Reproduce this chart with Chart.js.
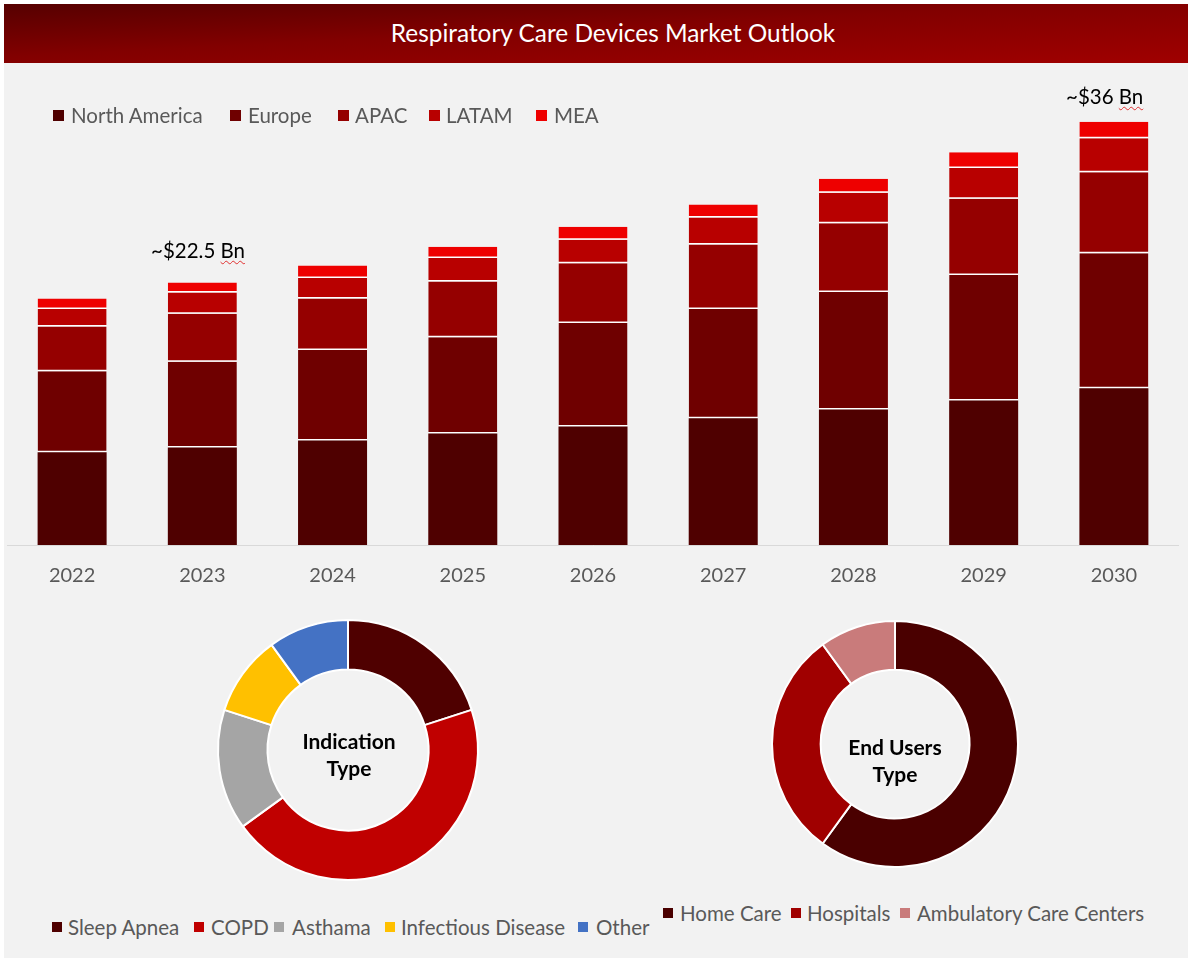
<!DOCTYPE html>
<html>
<head>
<meta charset="utf-8">
<title>Respiratory Care Devices Market Outlook</title>
<script src="https://cdn.jsdelivr.net/npm/chart.js@4"></script>
<style>
  html, body { margin: 0; padding: 0; background: #fff; }
  #page { position: relative; width: 1188px; height: 961px; overflow: hidden; font-family: Lato, sans-serif; }
  #panel { position: absolute; left: 4px; top: 4px; width: 1184px; height: 954px; background: #f2f2f2; }
  #header {
    position: absolute; left: 4px; top: 4px; width: 1184px; height: 59px;
    background: linear-gradient(to bottom right, #560000 0%, #820000 45%, #a00000 100%);
    color: #fff; font-size: 24.4px; line-height: 58px; text-align: center; box-sizing: border-box; padding-left: 34px;
  }
  canvas { position: absolute; }
  .leg { position: absolute; white-space: nowrap; color: #595959; font-size: 20.5px; line-height: 24px; }
  .sq { position: absolute; }
  .note { position: absolute; white-space: nowrap; color: #000; font-size: 20.5px; line-height: 24px; }
  .note u { text-decoration: underline wavy #e03030 1px; text-underline-offset: 2px; }
  .center { position: absolute; width: 160px; text-align: center; color: #000; font-weight: bold; font-size: 21px; line-height: 27px; }
</style>
</head>
<body>
<div id="page">
  <div id="panel"></div>
  <div id="header">Respiratory Care Devices Market Outlook</div>
  <canvas id="chartMercado" width="1172" height="500" style="left:7px;top:100px"></canvas>
  <canvas id="chartIndicacao" width="270" height="270" style="left:213px;top:615px"></canvas>
  <canvas id="chartUsuarios" width="260" height="260" style="left:765px;top:614px"></canvas>
  <div class="center" style="left:269px;top:727px">Indication<br>Type</div>
  <div class="center" style="left:815px;top:733px">End Users<br>Type</div>
  <div class="note" style="left:151px;top:238px">~$22.5 <u>Bn</u></div>
  <div class="note" style="left:1066px;top:84px">~$36 <u>Bn</u></div>
</div>
<script>
// --- Dados (US$ Bn) ---
const anos = ['2022','2023','2024','2025','2026','2027','2028','2029','2030'];
const northAmerica = [7.9, 8.3, 8.9, 9.5, 10.1, 10.8, 11.55, 12.3, 13.35];
const europe = [6.9, 7.3, 7.7, 8.2, 8.8, 9.3, 10.0, 10.7, 11.5];
const apac = [3.8, 4.1, 4.4, 4.75, 5.1, 5.5, 5.85, 6.5, 6.9];
const latam = [1.5, 1.8, 1.75, 2.0, 2.0, 2.3, 2.6, 2.6, 2.9];
const mea = [0.9, 0.85, 1.05, 0.95, 1.1, 1.1, 1.2, 1.35, 1.4];

const regioes = ['North America','Europe','APAC','LATAM','MEA'];
const coresRegioes = ['#4f0000','#6f0000','#950000','#b80000','#ee0000'];

const indicacoes = ['Sleep Apnea','COPD','Asthama','Infectious Disease','Other'];
const valoresIndicacao = [20, 45, 15, 10, 10];
const coresIndicacao = ['#4f0000','#c00000','#a5a5a5','#ffc000','#4472c4'];

const usuarios = ['Home Care','Hospitals','Ambulatory Care Centers'];
const valoresUsuarios = [60, 30, 10];
const coresUsuarios = ['#4a0000','#a00000','#c97b7b'];

// --- Legendas (HTML) ---
function legenda(labels, cores, y, xQuad, xTexto, lado){
  const page = document.getElementById('page');
  labels.forEach((txt, i) => {
    const s = document.createElement('div');
    s.className = 'sq';
    s.style.cssText = `left:${xQuad[i]}px;top:${y-5}px;width:${lado}px;height:${lado}px;background:${cores[i]}`;
    page.appendChild(s);
    const t = document.createElement('div');
    t.className = 'leg';
    t.textContent = txt;
    t.style.cssText = `left:${xTexto[i]}px;top:${y-12}px`;
    page.appendChild(t);
  });
}
legenda(regioes, coresRegioes, 115, [53,230,338,429,536], [71,248,355,446,554], 11);
legenda(indicacoes, coresIndicacao, 927, [52,194,274,385,578], [68,211,292,401,596], 10);
legenda(usuarios, coresUsuarios, 913, [663,791,900], [680,807,917], 10);

// --- Barras empilhadas ---
const series = [northAmerica, europe, apac, latam, mea];
new Chart(document.getElementById('chartMercado'), {
  type: 'bar',
  data: {
    labels: anos,
    datasets: regioes.map((r, i) => ({
      label: r,
      data: series[i],
      backgroundColor: coresRegioes[i],
      borderColor: '#ffffff',
      borderWidth: i === 0 ? 0 : { bottom: 1.5 },
      borderSkipped: false,
      barPercentage: 0.53,
      categoryPercentage: 1
    }))
  },
  options: {
    responsive: false, animation: false,
    layout: { padding: 0 },
    plugins: { legend: { display: false }, tooltip: { enabled: false } },
    scales: {
      x: {
        stacked: true,
        grid: { display: false },
        border: { color: '#d9d9d9' },
        ticks: { color: '#595959', font: { family: 'Lato', size: 20 }, padding: 11, maxRotation: 0 },
        afterFit: s => { s.height = 55; }
      },
      y: { stacked: true, display: false, min: 0, max: 37.9 }
    }
  }
});

// --- Roscas ---
function rosca(id, labels, valores, cores, raio, cutout){
  new Chart(document.getElementById(id), {
    type: 'doughnut',
    data: { labels, datasets: [{ data: valores, backgroundColor: cores, borderColor: '#ffffff', borderWidth: 2 }] },
    options: {
      responsive: false, animation: false, radius: raio, cutout,
      layout: { padding: 0 },
      plugins: { legend: { display: false }, tooltip: { enabled: false } }
    }
  });
}
rosca('chartIndicacao', indicacoes, valoresIndicacao, coresIndicacao, 130, 83);
rosca('chartUsuarios', usuarios, valoresUsuarios, coresUsuarios, 123, 78);
</script>
</body>
</html>
